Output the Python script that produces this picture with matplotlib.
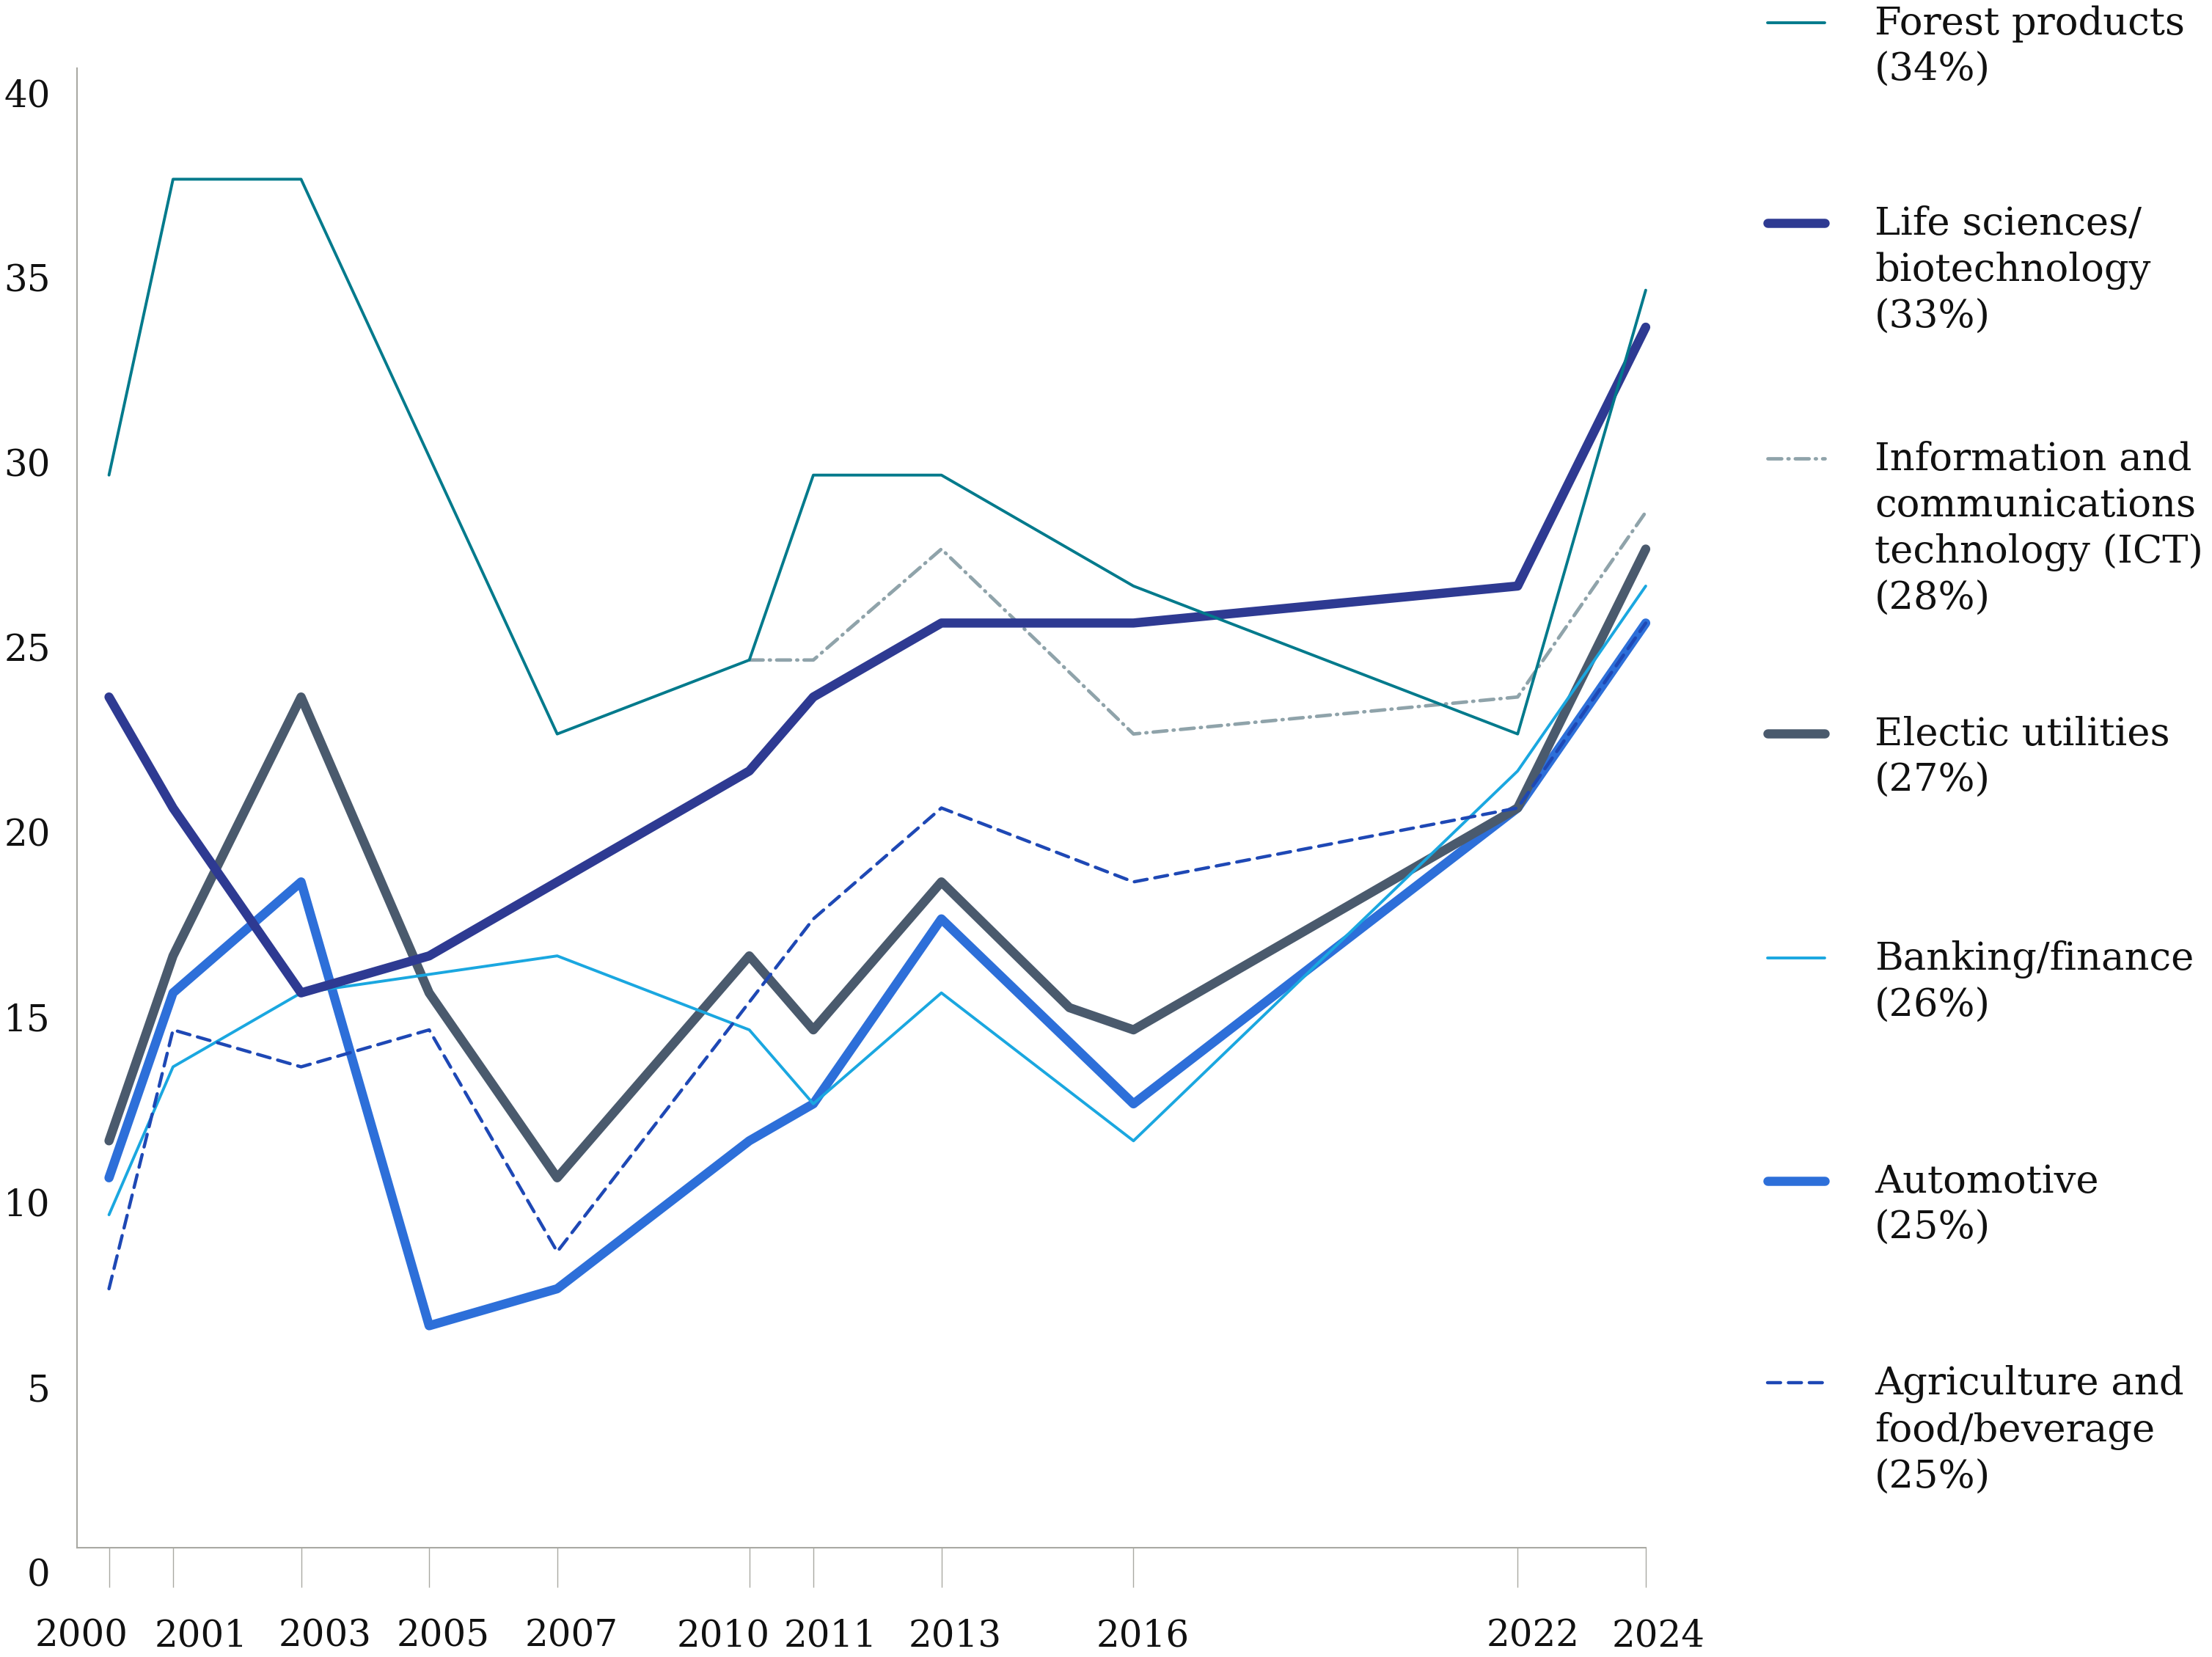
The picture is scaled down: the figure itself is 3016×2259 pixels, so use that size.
import matplotlib
matplotlib.use("Agg")
import matplotlib.pyplot as plt
import matplotlib.transforms as mtransforms
import numpy as np

# data (share of respondents, %), None = no point for that year
years = [2000, 2001, 2003, 2005, 2007, 2010, 2011, 2013, 2015, 2016, 2022, 2024]
forest = [29, 37, 37, None, 22, 24, 29, 29, None, 26, 22, 34]
life_sci = [23, 20, 15, 16, None, 21, 23, 25, None, 25, 26, 33]
ict = [None, None, None, None, None, 24, 24, 27, None, 22, 23, 28]
electric = [11, 16, 23, 15, 10, 16, 14, 18, 14.6, 14, 20, 27]
banking = [9, 13, 15, None, 16, 14, 12, 15, None, 11, 21, 26]
automotive = [10, 15, 18, 6, 7, 11, 12, 17, None, 12, 20, 25]
agriculture = [7, 14, 13, 14, 8, None, 17, 20, None, 18, 20, 25]

tick_years = [2000, 2001, 2003, 2005, 2007, 2010, 2011, 2013, 2016, 2022, 2024]
y_ticks = [0, 5, 10, 15, 20, 25, 30, 35, 40]

labels = ["Forest products", "Life sciences/\nbiotechnology",
          "Information and\ncommunications\ntechnology (ICT)",
          "Electic utilities", "Banking/finance", "Automotive",
          "Agriculture and\nfood/beverage"]
shares = [34, 33, 28, 27, 26, 25, 25]

plt.rcParams['font.family'] = ['DejaVu Serif']

fig = plt.figure(figsize=(30.16, 22.59), dpi=100)
ax = fig.add_axes([0.0348, 0.066, 0.744 - 0.0348, 0.9588 - 0.066])

x = np.array(years, dtype=float)

def draw(vals, color, lw, ls, z):
    v = np.array([np.nan if a is None else a for a in vals], dtype=float)
    m = ~np.isnan(v)
    ax.plot(x[m], v[m], color=color, lw=lw, ls=ls, zorder=z, clip_on=False,
            solid_capstyle='round', dash_capstyle='round', solid_joinstyle='round',
            dash_joinstyle='round')

# style per series: (values, color, linewidth, linestyle, zorder)
styles = [
    (forest, '#007A8C', 2.8, '-', 10),
    (life_sci, '#2E3A92', 9, '-', 9),
    (ict, '#8FA3AA', 3.4, (0, (4, 1.8, 0.3, 1.8)), 8),
    (electric, '#4A5A6D', 9, '-', 5),
    (banking, '#1AA7E0', 2.8, '-', 6),
    (automotive, '#2D6FD9', 9, '-', 4),
    (agriculture, '#1E48B5', 3.2, (0, (4, 2.4)), 7),
]
for vals, c, lw, ls, z in styles:
    draw(vals, c, lw, ls, z)

ax.set_xlim(1999.5, 2024)
ax.set_ylim(0, 40)

for s in ['top', 'right']:
    ax.spines[s].set_visible(False)
for s in ['left', 'bottom']:
    ax.spines[s].set_color('#A9A9A3')
    ax.spines[s].set_linewidth(1.5)

ax.set_xticks(tick_years)
ax.set_xticklabels([str(t) for t in tick_years])
ax.set_yticks(y_ticks)
ax.set_yticklabels([str(t) for t in y_ticks])
ax.tick_params(axis='x', direction='out', length=39, width=1, color='#A9A9A3',
               pad=30, labelsize=36, labelcolor='#111111')
ax.tick_params(axis='y', length=0, pad=26, labelsize=36, labelcolor='#111111')

# labels sit a bit off their ticks in the original
x_shift_px = [-37, 38, 33, 19, 19, -35, 23, 19, 13, 21, 17]
for lab, dx in zip(ax.get_xticklabels(), x_shift_px):
    lab.set_transform(lab.get_transform() +
                      mtransforms.ScaledTranslation(dx / 100, 0, fig.dpi_scale_trans))
for lab in ax.get_yticklabels():
    lab.set_transform(lab.get_transform() +
                      mtransforms.ScaledTranslation(0, -33 / 100, fig.dpi_scale_trans))

# legend drawn by hand on the right
leg_y_px = [31, 304, 625, 1000, 1306, 1610, 1885]
W, H = 3016, 2259
for (vals, c, lw, ls, z), lab, sh, yp in zip(styles, labels, shares, leg_y_px):
    yf = 1 - yp / H
    fig.add_artist(plt.Line2D([2410 / W, 2488 / W], [yf, yf], color=c, lw=lw, ls=ls,
                              solid_capstyle='round', dash_capstyle='round'))
    fig.text(2556 / W, 1 - (yp - 24) / H, f"{lab}\n({sh}%)", fontsize=38,
             va='top', ha='left', color='#111111', linespacing=1.3)

fig.savefig("out.png", dpi=100)
